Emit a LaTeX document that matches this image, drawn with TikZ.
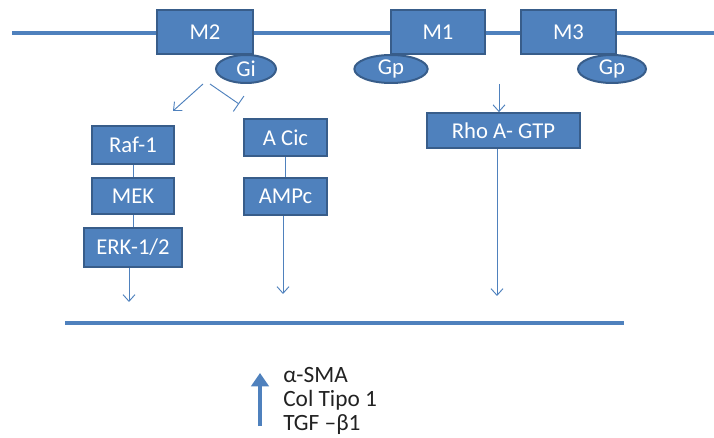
\documentclass[tikz,border=0pt]{standalone}
\usepackage{fontspec}
\setmainfont{Carlito}
\usetikzlibrary{arrows.meta,shapes.geometric}
\definecolor{boxfill}{HTML}{4F81BD}
\definecolor{boxline}{HTML}{385D8A}
\definecolor{txt}{HTML}{222222}
\tikzset{
  rbox/.style={draw=boxline, line width=1.5pt, fill=boxfill, text=white, font=\fontsize{17}{20}\selectfont, inner sep=0pt},
  gprot/.style={ellipse, draw=boxline, line width=1.5pt, fill=boxfill, text=white, font=\fontsize{17}{20}\selectfont, inner sep=0pt},
  membrane/.style={draw=boxfill, line width=2.6pt},
  thin/.style={draw=boxfill, line width=0.7pt},
  tarrow/.style={thin, -{Straight Barb[length=5pt,width=9pt]}},
  restxt/.style={anchor=base west, text=txt, font=\fontsize{17.5}{20}\selectfont, inner sep=0pt},
}
\begin{document}
\begin{tikzpicture}[x=0.75pt,y=-0.75pt]
\useasboundingbox (0,0) rectangle (714,438);
% membranes
\coordinate (ml) at (12,33);
\coordinate (mr) at (714,33);
\draw[membrane] (ml) -- (mr);
\coordinate (bl) at (65,323);
\coordinate (br) at (624,323);
\draw[membrane] (bl) -- (br);
% receptors
\node[rbox, minimum width=72pt, minimum height=33pt] (m2) at (205,32) {M2};
\node[rbox, minimum width=70.5pt, minimum height=33pt] (m1) at (438,32) {M1};
\node[rbox, minimum width=71pt, minimum height=33pt] (m3) at (568.5,32) {M3};
\node[gprot, minimum width=45pt, minimum height=21pt] (gi) at (246,69) {Gi};
\node[gprot, minimum width=55pt, minimum height=21pt] (gp1) at (391,69) {Gp};
\node[gprot, minimum width=51pt, minimum height=21pt] (gp3) at (612,69) {Gp};
% pathway boxes
\node[rbox, minimum width=61.5pt, minimum height=28pt] (raf) at (133,145) {Raf-1};
\node[rbox, minimum width=61.5pt, minimum height=27pt] (mek) at (133,196) {MEK};
\node[rbox, minimum width=73.5pt, minimum height=29pt] (erk) at (133,247.5) {ERK-1/2};
\node[rbox, minimum width=62pt, minimum height=28pt] (acic) at (285.5,137.5) {A Cic};
\node[rbox, minimum width=62pt, minimum height=28pt] (ampc) at (285.5,196.5) {AMPc};
\node[rbox, minimum width=115pt, minimum height=26pt] (rho) at (503.5,130.5) {Rho A- GTP};
% connectors
\draw[thin] (raf) -- (mek);
\draw[thin] (mek) -- (erk);
\draw[thin] (acic) -- (ampc);
\coordinate (ga1) at (203,84);
\coordinate (ga2) at (173,111);
\draw[tarrow] (ga1) -- (ga2);
\coordinate (gb1) at (210,84);
\coordinate (gb2) at (239,104);
\draw[thin, -{Bar[width=14pt]}] (gb1) -- (gb2);
\coordinate (r1) at (499,84);
\draw[tarrow] (r1) -- (rho.north -| r1);
\coordinate (e1) at (129,302);
\draw[tarrow] (erk.south -| e1) -- (e1);
\coordinate (a1) at (283,294);
\draw[tarrow] (ampc.south -| a1) -- (a1);
\coordinate (h1) at (497,296);
\draw[tarrow] (rho.south -| h1) -- (h1);
% result
\coordinate (u1) at (260,426);
\coordinate (u2) at (260,373);
\draw[draw=boxfill, line width=3pt, -{Triangle[length=10pt,width=13pt]}] (u1) -- (u2);
\node[restxt] (r1t) at (283,382) {α-SMA};
\node[restxt] (r2t) at (283,406) {Col Tipo 1};
\node[restxt] (r3t) at (283,430) {TGF –β1};
\end{tikzpicture}
\end{document}
